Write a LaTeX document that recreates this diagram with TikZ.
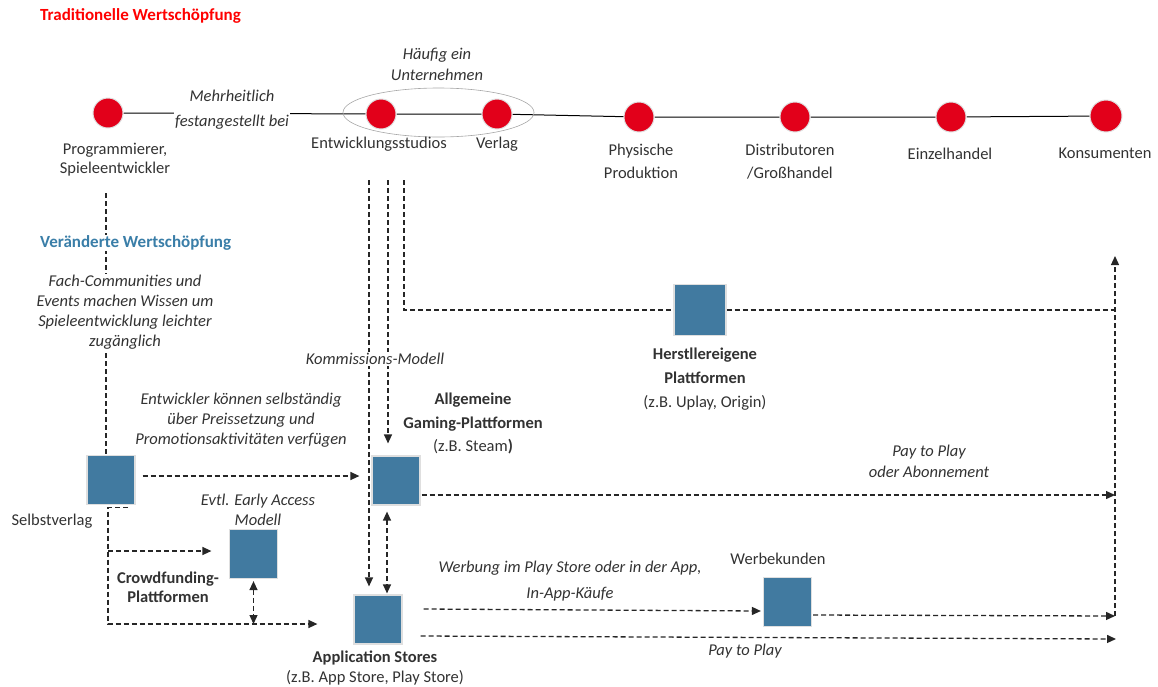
\documentclass[tikz,border=0pt]{standalone}
\usepackage{fontspec}
\setmainfont{Carlito}
\usetikzlibrary{arrows.meta,shapes.geometric,calc,backgrounds}
\definecolor{dotred}{RGB}{226,0,26}
\definecolor{boxblue}{RGB}{65,122,160}
\definecolor{ttlred}{RGB}{255,0,0}
\definecolor{ttlblue}{RGB}{58,126,168}
\definecolor{txt}{RGB}{50,50,50}
\begin{document}
\begin{tikzpicture}[x=1pt,y=-1pt,
  every node/.style={font=\fontsize{16.5}{20}\selectfont, text=txt, inner sep=1pt},
  dot/.style={circle, fill=dotred, draw=gray!25, line width=1pt, minimum size=30pt, inner sep=0pt},
  sq/.style={rectangle, fill=boxblue, draw=gray!25, line width=1.2pt, minimum width=48pt, minimum height=49pt, inner sep=0pt},
  dl/.style={dash pattern=on 5pt off 3pt, line width=1.3pt, draw=black!85},
  tip/.style={-{Triangle[length=9pt,width=8pt]}},
  dtip/.style={{Triangle[length=9pt,width=8pt]}-{Triangle[length=9pt,width=8pt]}},
  it/.style={font=\fontsize{16.5}{20}\selectfont\itshape, align=center},
  lb/.style={align=center},
  bl/.style={font=\fontsize{16.5}{20}\selectfont\bfseries, align=center}]
\useasboundingbox (0,0) rectangle (1158,686);

% --- traditional chain ---
\node[dot] (p1) at (108,113) {};
\node[dot] (es) at (381,114) {};
\node[dot] (vl) at (497,114) {};
\node[dot] (ph) at (639,117) {};
\node[dot] (di) at (795,117) {};
\node[dot] (ez) at (951,117) {};
\node[dot, minimum size=32pt] (ko) at (1106,116) {};
\node[ellipse, draw=gray!70, line width=0.6pt, minimum width=191pt, minimum height=49pt, inner sep=0pt] (grp) at (438.5,112.5) {};

% --- boxes ---
\node[sq] (sv) at (111,480) {};
\node[sq] (cf) at (253.5,554) {};
\node[sq] (gp) at (396,480.5) {};
\node[sq] (as) at (378,619.5) {};
\node[sq, minimum width=52pt, minimum height=51pt] (hp) at (700,310) {};
\node[sq] (wk) at (787.5,602) {};

% --- free ends ---
\coordinate (s0) at (106,193);
\coordinate (s1) at (369,180);
\coordinate (s2) at (388,180);
\coordinate (s3) at (404,180);
\coordinate (up) at (1115,256);
\coordinate (rt) at (1115,616);
\coordinate (pe) at (1116,639);
\coordinate (bl) at (108,624);
\coordinate (bm) at (108,551);
\coordinate (g1) at ($(gp.east)+(1,14.5)$);

\begin{pgfonlayer}{background}
\draw[line width=1pt, black] (p1) -- (es) -- (vl) -- (ph) -- (di) -- (ez) -- (ko);
\draw[dl] (s0) -- (s0 |- sv.north);
\draw[dl,tip] (s1) -- ($(as.north)+(-9,-8)$);
\draw[dl,tip] (s2) -- ($(gp.north)+(-8,-12)$);
\draw[dl] (s3) |- (hp.west);
\draw[dl] (hp.east) -- (hp.east -| up);
\draw[dl,tip] (rt) -- (up);
\draw[dl,tip] ($(wk.east)+(1,13)$) -- (rt);
\draw[dl,tip] ($(as.east)+(21,-10.5)$) -- ($(wk.west)+(-2,9)$);
\draw[dl,tip] ($(as.east)+(18,16.5)$) -- (pe);
\draw[dl,tip] (g1) -- (g1 -| up);
\draw[dl,dtip] ($(gp.south)+(-9,6)$) -- ($(as.north)+(9,-1)$);
\draw[dl,tip] ($(sv.east)+(7,-4)$) -- ($(gp.west)+(-12,-4.5)$);
\draw[dl,tip] ($(sv.south)+(17,2.5)$) -- ($(sv.south)+(-3,2.5)$) -- (bl) -- ($(as.west)+(-36,4.5)$);
\draw[dl,tip] (bm) -- ($(cf.west)+(-17.5,-3)$);
\draw[dl,dtip] ($(cf.south)+(0,2)$) -- (cf.south |- bl);
\end{pgfonlayer}

% --- titles ---
\node[anchor=west, font=\fontsize{17}{20}\selectfont\bfseries, text=ttlred] (t1) at (39,16) {Traditionelle Wertschöpfung};
\node[anchor=west, font=\fontsize{17}{20}\selectfont\bfseries, text=ttlblue, fill=white] (t2) at (39,243) {Veränderte Wertschöpfung};

% --- labels traditional ---
\node[lb] (lp1) at (115,159.5) {Programmierer,\\[-1pt]Spieleentwickler};
\node[it, fill=white] (lmh) at (232,109.5) {Mehrheitlich\\[5pt]festangestellt bei};
\node[it] (lhu) at (437,64.5) {Häufig ein\\[1pt]Unternehmen};
\node[lb] (les) at (379,144) {Entwicklungsstudios};
\node[lb] (lvl) at (497,144) {Verlag};
\node[lb] (lph) at (641,161.5) {Physische\\[3pt]Produktion};
\node[lb] (ldi) at (790,161.5) {Distributoren\\[3pt]/Großhandel};
\node[lb] (lez) at (950,154) {Einzelhandel};
\node[lb] (lko) at (1105,153) {Konsumenten};

% --- labels changed ---
\node[it, fill=white] (lfa) at (125,312) {Fach-Communities und\\Events machen Wissen um\\Spieleentwicklung leichter\\zugänglich};
\node[it, fill=white] (lkm) at (375,359) {Kommissions-Modell};
\node[it] (len) at (241,420) {Entwickler können selbständig\\über Preissetzung und\\Promotionsaktivitäten verfügen};
\node[lb] (lgp) at (473,423.5) {\textbf{Allgemeine}\\[3.5pt]\textbf{Gaming-Plattformen}\\[3.5pt](z.B. Steam\textbf{)}};
\node[lb] (lhp) at (705,379) {\textbf{Herstllereigene}\\[4pt]\textbf{Plattformen}\\[4pt](z.B. Uplay, Origin)};
\node[it] (lpa) at (929,461.5) {Pay to Play\\[1pt]oder Abonnement};
\node[lb] (lsv) at (52,521) {Selbstverlag};
\node[it] (lea) at (258,510) {Evtl. Early Access\\Modell};
\node[bl] (lcf) at (168,587.5) {Crowdfunding-\\[-1pt]Plattformen};
\node[lb] (las) at (375,668) {\textbf{Application Stores}\\(z.B. App Store, Play Store)};
\node[it] (lwe) at (570,581) {Werbung im Play Store oder in der App,\\[6pt]In-App-Käufe};
\node[lb] (lwk) at (778,559) {Werbekunden};
\node[it] (lp2) at (745,651) {Pay to Play};
\end{tikzpicture}
\end{document}
